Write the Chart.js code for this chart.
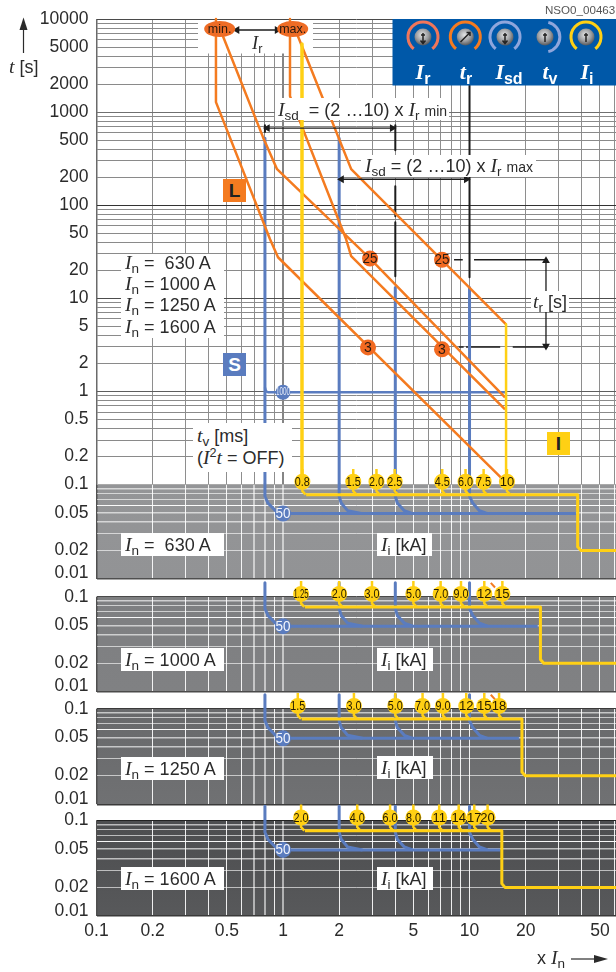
<!DOCTYPE html>
<html>
<head>
<meta charset="utf-8">
<script src="https://cdn.jsdelivr.net/npm/chart.js@4"></script>
<style>
  html, body { margin: 0; background: #fff; }
  body { position: relative; width: 616px; height: 972px; overflow: hidden; font-family: "Liberation Sans", Arial, sans-serif; color: #2b2b2b; }
  canvas { position: absolute; left: 0; }
  .note { position: absolute; background: #fff; font-size: 18px; line-height: 20px; white-space: nowrap; z-index: 5; box-sizing: border-box; }
  .plain { background: none; }
  .v { font-family: "Liberation Serif", serif; font-style: italic; font-size: 1.1em; }
  sub { font-size: .75em; vertical-align: -.3em; line-height: 0; }
  .tag { position: absolute; width: 23px; height: 23px; font-weight: bold; font-size: 19px; line-height: 23px; text-align: center; z-index: 5; }
  .knobname { position: absolute; top: 60px; color: #fff; font-weight: bold; font-size: 20px; line-height: 24px; z-index: 6; transform: translateX(-50%); }
  .knobname sub { font-size: .8em; }
  svg { position: absolute; left: 0; top: 0; z-index: 5; }
</style>
</head>
<body>

<svg width="616" height="972">
  <defs>
    <radialGradient id="ball" cx="45%" cy="38%" r="62%">
      <stop offset="0" stop-color="#e4e5e6"/><stop offset=".6" stop-color="#9a9c9f"/><stop offset="1" stop-color="#55575a"/>
    </radialGradient>
  </defs>
  <rect x="392.5" y="19" width="224" height="66.5" fill="#0058a8"/>
  <g fill="none" stroke-width="3">
    <path d="M413.7 48.8 A15 15 0 1 1 432.3 48.8" stroke="#f0765a"/>
    <path d="M456 48.8 A15 15 0 1 1 474.6 48.8" stroke="#f47b20"/>
    <path d="M495.7 48.8 A15 15 0 1 1 514.3 48.8" stroke="#8fa6dc"/>
    <path d="M548.3 22.4 A15 15 0 0 1 548.3 51.6" stroke="#8fa6dc"/>
    <path d="M576.7 48.8 A15 15 0 1 1 595.3 48.8" stroke="#ffd014"/>
  </g>
  <g fill="url(#ball)">
    <circle cx="423" cy="37" r="8.5"/><circle cx="465.3" cy="37" r="8.5"/><circle cx="505" cy="37" r="8.5"/>
    <circle cx="545" cy="37" r="8.5"/><circle cx="586" cy="37" r="8.5"/>
  </g>
  <g stroke="#222" stroke-width="1.5" fill="none">
    <path d="M423 33V43M420.5 40.5L423 43.5L425.5 40.5M421 35H425"/>
    <path d="M460.5 42L470 32.5M466.5 32.5H470V36"/>
    <path d="M505 33V43M502.5 40.5L505 43.5L507.5 40.5M503 35H507"/>
    <path d="M545 33V42M543 35H547"/>
    <path d="M586 33V42M584 35H588"/>
  </g>
  <!-- axis direction arrows -->
  <path d="M23.5 53V26" stroke="#2b2b2b" stroke-width="1.2"/>
  <path d="M23.5 17.5L19.5 30H27.5Z" fill="#2b2b2b"/>
  <path d="M571 959H596" stroke="#2b2b2b" stroke-width="1.2"/>
  <path d="M608 959L594 955V963Z" fill="#2b2b2b"/>
</svg>

<div class="note plain" style="left:545px;top:3px;width:70px;font-size:11.6px;line-height:14px;color:#555;text-align:right">NSO0_00463</div>
<div class="note plain" style="left:9px;top:56px;font-size:18px"><span class="v">t</span> [s]</div>
<div class="note plain" style="left:537px;top:947px;font-size:18px">x <span class="v">I</span><sub>n</sub></div>
<div class="note plain" style="left:252px;top:33px;font-size:17px"><span class="v">I</span><sub>r</sub></div>

<div class="knobname" style="left:423px"><span class="v">I</span><sub>r</sub></div>
<div class="knobname" style="left:466px"><span class="v">t</span><sub>r</sub></div>
<div class="knobname" style="left:509px"><span class="v">I</span><sub>sd</sub></div>
<div class="knobname" style="left:550px"><span class="v">t</span><sub>v</sub></div>
<div class="knobname" style="left:587px"><span class="v">I</span><sub>i</sub></div>

<div class="note" style="left:275px;top:98px;width:174px;height:22px;padding-left:3px;line-height:22px"><span class="v">I</span><sub>sd</sub> &nbsp;= (2 …10) x <span class="v">I</span><sub>r</sub> <span style="font-size:14px">min</span></div>
<div class="note" style="left:361px;top:155px;width:175px;height:22px;padding-left:4px;line-height:21px"><span class="v">I</span><sub>sd</sub> = (2 …10) x <span class="v">I</span><sub>r</sub> <span style="font-size:14px">max</span></div>
<div class="note" style="left:531px;top:291px;width:38px;height:21px;padding-left:2px"><span class="v">t</span><sub>r</sub> [s]</div>

<div class="note" style="left:121px;top:254px;width:103px;height:84px;padding-left:4px;line-height:20.2px">
  <div style="margin-top:-2px"><span class="v">I</span><sub>n</sub> = &nbsp;630 A<br><span class="v">I</span><sub>n</sub> = 1000 A<br><span class="v">I</span><sub>n</sub> = 1250 A<br><span class="v">I</span><sub>n</sub> = 1600 A</div>
</div>
<div class="note" style="left:193px;top:423px;width:99px;height:49px;padding:2px 0 0 4px;line-height:21px">
  <span class="v">t</span><sub>v</sub> [ms]<br>(<span class="v">I</span><sup style="font-size:.7em;line-height:0">2</sup><span class="v">t</span> = OFF)
</div>

<div class="note" style="left:121px;top:533px;width:103px;height:23px;padding-left:4px;line-height:23px"><span class="v">I</span><sub>n</sub> = &nbsp;630 A</div>
<div class="note" style="left:121px;top:648px;width:103px;height:23px;padding-left:4px;line-height:23px"><span class="v">I</span><sub>n</sub> = 1000 A</div>
<div class="note" style="left:121px;top:757px;width:103px;height:23px;padding-left:4px;line-height:23px"><span class="v">I</span><sub>n</sub> = 1250 A</div>
<div class="note" style="left:121px;top:867px;width:103px;height:23px;padding-left:4px;line-height:23px"><span class="v">I</span><sub>n</sub> = 1600 A</div>
<div class="note" style="left:377px;top:533px;width:55px;height:23px;padding-left:4px;line-height:23px"><span class="v">I</span><sub>i</sub> [kA]</div>
<div class="note" style="left:377px;top:648px;width:56px;height:23px;padding-left:4px;line-height:23px"><span class="v">I</span><sub>i</sub> [kA]</div>
<div class="note" style="left:377px;top:756px;width:56px;height:23px;padding-left:4px;line-height:23px"><span class="v">I</span><sub>i</sub> [kA]</div>
<div class="note" style="left:377px;top:867px;width:56px;height:23px;padding-left:4px;line-height:23px"><span class="v">I</span><sub>i</sub> [kA]</div>

<div class="tag" style="left:223px;top:179px;background:#f47b20;color:#222">L</div>
<div class="tag" style="left:223px;top:353px;background:#5a7cbf;color:#fff">S</div>
<div class="tag" style="left:547px;top:432px;background:#ffd014;color:#222">I</div>

<script>
// ===== DATA =====
const X_MIN = 0.1, X_MAX = 61;

const xGrid = [0.1,0.2,0.3,0.4,0.5,0.6,0.7,0.8,0.9,1,2,3,4,5,6,7,8,9,10,20,30,40,50,60];
const xLabels = [0.1,0.2,0.5,1,2,5,10,20,50];

const tGridMain = [0.1,0.2,0.3,0.4,0.5,0.6,0.7,0.8,0.9,1,2,3,4,5,6,7,8,9,10,20,30,40,50,60,70,80,90,
  100,200,300,400,500,600,700,800,900,1000,2000,3000,4000,5000,6000,7000,8000,9000,10000];
const tLabelsMain = [10000,5000,2000,1000,500,200,100,50,20,10,5,2,1,0.5,0.2];

const tGridPanel = [0.01,0.02,0.03,0.04,0.05,0.06,0.07,0.08,0.09,0.1];
const tLabelsPanel = [0.1,0.05,0.02,0.01];

// long-time curves (L)
const longMin3X   = [0.437,0.437,0.852,0.94,15.7];
const longMin3T   = [10000,1281,43,27.6,0.105];
const longMin25X  = [0.46,0.781,0.929,2.93,15.5];
const longMin25T  = [7805,538,244,26.7,0.862];
const longMax3X   = [1.09,1.09,2.18,2.32,15.5];
const longMax3T   = [10000,1486,43,28.3,0.64];
const longMax25X  = [1.16,2.32,15.7];
const longMax25T  = [7805,244,5.25];

// short-time (S)
const sdXs = [0.8,2,4,10];
const sdTopT = [525,525,13.1,13.1];
const sdLevelX = [0.8,0.81,0.83,15.7];
const sdLevelT = [1.1,1.0,0.98,0.98];

// instantaneous (I) verticals in the main area
const instMinX = [1.264,1.264], instMinT = [5385,0.1];
const instMaxX = [15.7,15.7],   instMaxT = [5.25,0.1];

// setting markers
const ovalX = [0.4575,1.127], ovalT = [7805,7805], ovalLabels = ['min.','max.'];
const trBadgeX = [2.93,7.12,2.856,7.12], trBadgeT = [26.7,25.9,2.97,2.83], trBadgeLabels = ['25','25','3','3'];

// black range lines
const rangeMinX = [4,4,null,4,4,null,4,4], rangeMinT = [724,390,null,160,76,null,65.6,17.2];
const rangeMaxX = [10,10], rangeMaxT = [1950,16.8];
const trDash25X = [8.26,9.2,null,10.57,26.2], trDash25T = [25.9,25.9,null,25.9,25.9];
const trDash3X = [8.75,9.3,null,9.58,14.6,null,17.05,26.2], trDash3T = [2.99,2.99,null,2.99,2.99,null,2.99,2.99];

// blue knees going into the t axis of each lower panel
const knee08X = [0.8,0.8,0.83,0.91,1.0];
const knee2X  = [2,2,2.05,2.22,2.67];
const knee4X  = [4,4,4.1,4.47,4.95];
const knee10X = [10,10,10.4,11.3,12.5];
const kneeT   = [0.075,0.075,0.0635,0.0527,0.049];

// panels
const iiLabels630  = ['0.8','1.5','2.0','2.5','4.5','6.0','7.5','10'];
const iiX630       = [1.27,2.38,3.17,3.97,7.14,9.52,11.9,15.87];
const iiLabels1000 = ['1.25','2.0','3.0','5.0','7.0','9.0','12','15'];
const iiX1000      = [1.25,2,3,5,7,9,12,15];
const iiLabels1250 = ['1.5','3.0','5.0','7.0','9.0','12','15','18'];
const iiX1250      = [1.2,2.4,4,5.6,7.2,9.6,12,14.4];
const iiLabels1600 = ['2.0','4.0','6.0','8.0','11','14','17','20'];
const iiX1600      = [1.25,2.5,3.75,5,6.875,8.75,10.6,12.5];

const yellowT = [0.078,0.078,0.0218,0.0199,0.0199];
const yellowX630  = [1.33,38,38,39.5,61];
const yellowX1000 = [1.31,24,24,25,61];
const yellowX1250 = [1.26,19.1,19.1,19.9,61];
const yellowX1600 = [1.31,14.9,14.9,15.5,61];
const blueEnd = [37.2,23.2,18.4,14.6];
const blueTop = [0.1,0.14,0.14,0.14];
const tailX = [13,13.7], tailT = [0.14,0.125];

const ORANGE = '#f47b20', BLUE = '#5a7cbf', YELLOW = '#ffd014', INK = '#1d1d1d';
const TICK_FONT = '"Liberation Sans", Arial, sans-serif';
const TICK_SIZE = 17.5;

// ===== HELPERS =====
function zip(xs, ys) {
  return xs.map((x, i) => ({ x: x, y: ys[i] }));
}

function line(xs, ys, color, width) {
  return { data: zip(xs, ys), showLine: true, borderColor: color, borderWidth: width, pointRadius: 0, clip: false, borderJoinStyle: 'round' };
}

function arrow(xs, ys, rotations) {
  return { data: zip(xs, ys), showLine: true, borderColor: INK, borderWidth: 1.3, clip: false,
    pointStyle: 'triangle', pointRadius: 4.5, pointRotation: rotations, pointBackgroundColor: INK, pointBorderWidth: 0 };
}

function badges(xs, ys, labels, fill, textColor, radius, size) {
  return { data: zip(xs, ys), showLine: false, clip: false, pointRadius: radius, pointBackgroundColor: fill, pointBorderWidth: 0,
    pointStyle: 'circle', labels: labels, labelColor: textColor, labelSize: size, labelWidth: radius * 2 - 1 };
}

// the little pins that tie each Ii badge to the yellow line
function pins(xs) {
  const pts = [];
  xs.forEach(x => {
    pts.push({ x: x, y: 0.146 }, { x: x, y: 0.085 }, { x: x * 1.04, y: 0.078 }, { x: null, y: null });
  });
  return { data: pts, showLine: true, borderColor: YELLOW, borderWidth: 2.5, pointRadius: 0, clip: false };
}

const labelPlugin = {
  id: 'pointText',
  afterDatasetsDraw(chart) {
    const ctx = chart.ctx;
    chart.data.datasets.forEach((ds, i) => {
      if (!ds.labels) return;
      chart.getDatasetMeta(i).data.forEach((pt, j) => {
        ctx.save();
        if (ds.oval) {
          ctx.fillStyle = ds.oval;
          ctx.beginPath();
          ctx.ellipse(pt.x, pt.y, 15.5, 8, 0, 0, Math.PI * 2);
          ctx.fill();
        }
        ctx.fillStyle = ds.labelColor;
        ctx.font = ds.labelSize + 'px ' + TICK_FONT;
        ctx.textAlign = 'center';
        ctx.textBaseline = 'middle';
        ctx.fillText(ds.labels[j], pt.x, pt.y + 0.5, ds.labelWidth);
        ctx.restore();
      });
    });
  }
};

// white cut-out behind the min./max. setting area, and panel fill
const backPlugin = {
  id: 'panelBack',
  beforeDraw(chart) {
    const fill = chart.options.plugins.panelBack;
    if (!fill || !fill.top) return;
    const a = chart.chartArea, g = chart.ctx.createLinearGradient(0, a.top, 0, a.bottom);
    g.addColorStop(0, fill.top);
    g.addColorStop(1, fill.bottom);
    chart.ctx.fillStyle = g;
    chart.ctx.fillRect(a.left, a.top, a.right - a.left, a.bottom - a.top);
  },
  beforeDatasetsDraw(chart) {
    const cut = chart.options.plugins.panelBack && chart.options.plugins.panelBack.cut;
    if (!cut) return;
    chart.ctx.fillStyle = '#fff';
    chart.ctx.fillRect(cut[0], cut[1], cut[2], cut[3]);
  }
};

// keep the plot area exactly where the panel sits, whatever the labels want
function noPadding(s) {
  s.paddingLeft = s.paddingRight = s.paddingTop = s.paddingBottom = 0;
}

function makeChart(opts) {
  const canvas = document.createElement('canvas');
  canvas.width = 616;
  canvas.height = opts.bottomEdge - opts.topEdge;
  canvas.style.top = opts.topEdge + 'px';
  document.body.appendChild(canvas);

  return new Chart(canvas, {
    type: 'scatter',
    data: { datasets: opts.datasets },
    plugins: [backPlugin, labelPlugin],
    options: {
      responsive: false,
      animation: false,
      devicePixelRatio: 1,
      layout: { autoPadding: false, padding: { top: opts.areaTop - opts.topEdge, left: 0, right: 0, bottom: 0 } },
      plugins: { legend: { display: false }, tooltip: { enabled: false }, panelBack: opts.back || {} },
      scales: {
        x: {
          type: 'logarithmic', min: X_MIN, max: X_MAX,
          afterBuildTicks(s) { s.ticks = xGrid.map(v => ({ value: v })); },
          afterFit(s) { s.height = opts.bottomEdge - opts.areaBottom; noPadding(s); },
          border: { display: false },
          grid: { drawTicks: false, color: c => opts.gridX(c.tick ? c.tick.value : 0), lineWidth: c => opts.widthX(c.tick ? c.tick.value : 0) },
          ticks: {
            display: !!opts.showX, autoSkip: false, maxRotation: 0, padding: 5, color: '#2b2b2b',
            font: { family: TICK_FONT, size: TICK_SIZE },
            callback: v => xLabels.includes(v) ? String(v) : ''
          }
        },
        y: {
          type: 'logarithmic', min: opts.tMin, max: opts.tMax,
          afterBuildTicks(s) { s.ticks = opts.tGrid.map(v => ({ value: v })); },
          afterFit(s) { s.width = 96.5; noPadding(s); },
          border: { display: false },
          grid: { drawTicks: false, color: c => opts.gridT(c.tick ? c.tick.value : 0), lineWidth: c => opts.widthT(c.tick ? c.tick.value : 0) },
          ticks: {
            autoSkip: false, padding: 8, color: '#2b2b2b',
            font: c => ({ family: TICK_FONT, size: TICK_SIZE, lineHeight: c.tick && c.tick.value === 0.01 ? 0.6 : 1.2 }),
            // the lowest label sits a little above its line in every panel
            callback: v => opts.tLabels.includes(v) ? (v === 0.01 ? ['0.01', ''] : String(v)) : ''
          }
        }
      }
    }
  });
}

// ===== MAIN AREA =====
const mainDarkLines = { 10000: '#4a4a4a', 1000: '#707070', 100: '#333', 10: '#4d4d4d', 1: '#5e5e5e' };

const ovals = badges(ovalX, ovalT, ovalLabels, 'rgba(0,0,0,0)', '#2a1a10', 0.1, 12.5);
ovals.oval = '#ee6c25';
ovals.labelWidth = 27;

const blueVerticals = sdXs.map((x, i) => line([x, x], [sdTopT[i], 0.1], BLUE, 3));

makeChart({
  topEdge: 0, bottomEdge: 500, areaTop: 19, areaBottom: 484.5,
  tMin: 0.1, tMax: 10000, tGrid: tGridMain, tLabels: tLabelsMain,
  back: { cut: [198, 20, 115, 33.5] },
  gridX: v => v === 0.1 ? '#6a6a6a' : (v === 1 ? '#858585' : '#8e8e8e'),
  widthX: v => v === 0.1 ? 1.5 : (v === 1 ? 2 : 1),
  gridT: v => mainDarkLines[v] || '#8a8a8a',
  widthT: () => 1,
  datasets: [
    ovals,
    badges(trBadgeX, trBadgeT, trBadgeLabels, '#f26a21', '#2a1a10', 8, 14),
    badges([1], [0.98], ['1000'], BLUE, '#e8edf8', 7.5, 10),
    arrow([0.567, 0.929], [7620, 7620], [270, 90]),
    arrow([0.825, 3.85], [673, 673], [270, 90]),
    arrow([2.06, 9.6], [190, 190], [270, 90]),
    arrow([25.7, 25.7], [25.3, 3.07], [0, 180]),
    line(instMinX, instMinT, YELLOW, 3.5),
    line(instMaxX, instMaxT, YELLOW, 2.5),
    line(longMin3X, longMin3T, ORANGE, 2.5),
    line(longMin25X, longMin25T, ORANGE, 2.5),
    line(longMax3X, longMax3T, ORANGE, 2.5),
    line(longMax25X, longMax25T, ORANGE, 2.5),
    line(sdLevelX, sdLevelT, BLUE, 2.5),
    ...blueVerticals,
    line(trDash25X, trDash25T, INK, 1.5),
    line(trDash3X, trDash3T, INK, 1.5),
    line(rangeMinX, rangeMinT, INK, 2),
    line(rangeMaxX, rangeMaxT, INK, 2),
    line([0.8, 0.8], [724, 610], INK, 2)
  ]
});

// ===== Ii PANELS =====
function panelDatasets(i, iiX, iiLabels, yellowX, withTail) {
  const top = blueTop[i];
  const knees = [knee08X, knee2X, knee4X, knee10X].map(kx =>
    line(kx, [top].concat(kneeT.slice(1)), BLUE, 3));
  const list = [
    badges(iiX, iiX.map(() => 0.107), iiLabels, YELLOW, '#231a00', 8, 13),
    badges([1], [0.049], ['50'], BLUE, '#f2f5fc', 8, 14.5),
    pins(iiX),
    line(yellowX, yellowT, YELLOW, 3),
    line([1, blueEnd[i]], [0.049, 0.049], BLUE, 3),
    ...knees
  ];
  if (withTail) list.push(line(tailX, tailT, ORANGE, 2));
  return list;
}

const whiteT = v => v === 0.06 ? 'rgba(255,255,255,0.95)' : 'rgba(255,255,255,0.62)';
const whiteX = v => v === 0.1 ? '#4f4f4f' : ((v === 0.7 || v === 0.8 || v === 1) ? 'rgba(255,255,255,0.55)' : 'rgba(255,255,255,0.9)');
const widthX = v => v === 0.1 ? 1.5 : ((v === 0.7 || v === 0.8 || v === 1) ? 2 : 1);
const widthT = v => (v === 0.01 || v === 0.09 || v === 0.05 || v === 0.04) ? 1.5 : 1;

makeChart({
  topEdge: 460, bottomEdge: 585, areaTop: 484.5, areaBottom: 578.5,
  tMin: 0.01, tMax: 0.1, tGrid: tGridPanel, tLabels: tLabelsPanel,
  back: { top: '#949597', bottom: '#929395' },
  gridX: whiteX, widthX: widthX, widthT: widthT,
  gridT: v => v === 0.01 ? '#4f4f4f' : (v === 0.1 ? '#aaa' : whiteT(v)),
  datasets: panelDatasets(0, iiX630, iiLabels630, yellowX630, false)
});

makeChart({
  topEdge: 575, bottomEdge: 700, areaTop: 596.7, areaBottom: 691.7,
  tMin: 0.01, tMax: 0.1, tGrid: tGridPanel, tLabels: tLabelsPanel,
  back: { top: '#7e7f81', bottom: '#808183' },
  gridX: whiteX, widthX: widthX, widthT: widthT,
  gridT: v => (v === 0.01 || v === 0.1) ? '#4a4a4a' : whiteT(v),
  datasets: panelDatasets(1, iiX1000, iiLabels1000, yellowX1000, true)
});

makeChart({
  topEdge: 688, bottomEdge: 812, areaTop: 708.7, areaBottom: 804.3,
  tMin: 0.01, tMax: 0.1, tGrid: tGridPanel, tLabels: tLabelsPanel,
  back: { top: '#68696b', bottom: '#707173' },
  gridX: whiteX, widthX: widthX, widthT: widthT,
  gridT: v => (v === 0.01 || v === 0.1) ? '#3a3a3a' : whiteT(v),
  datasets: panelDatasets(2, iiX1250, iiLabels1250, yellowX1250, true)
});

makeChart({
  topEdge: 800, bottomEdge: 972, areaTop: 820.3, areaBottom: 916,
  tMin: 0.01, tMax: 0.1, tGrid: tGridPanel, tLabels: tLabelsPanel,
  showX: true,
  back: { top: '#4c4d4f', bottom: '#58595b' },
  gridX: whiteX, widthX: widthX, widthT: widthT,
  gridT: v => v === 0.01 ? '#3a3a3a' : (v === 0.1 ? '#222' : whiteT(v)),
  datasets: panelDatasets(3, iiX1600, iiLabels1600, yellowX1600, false)
});
</script>
</body>
</html>
